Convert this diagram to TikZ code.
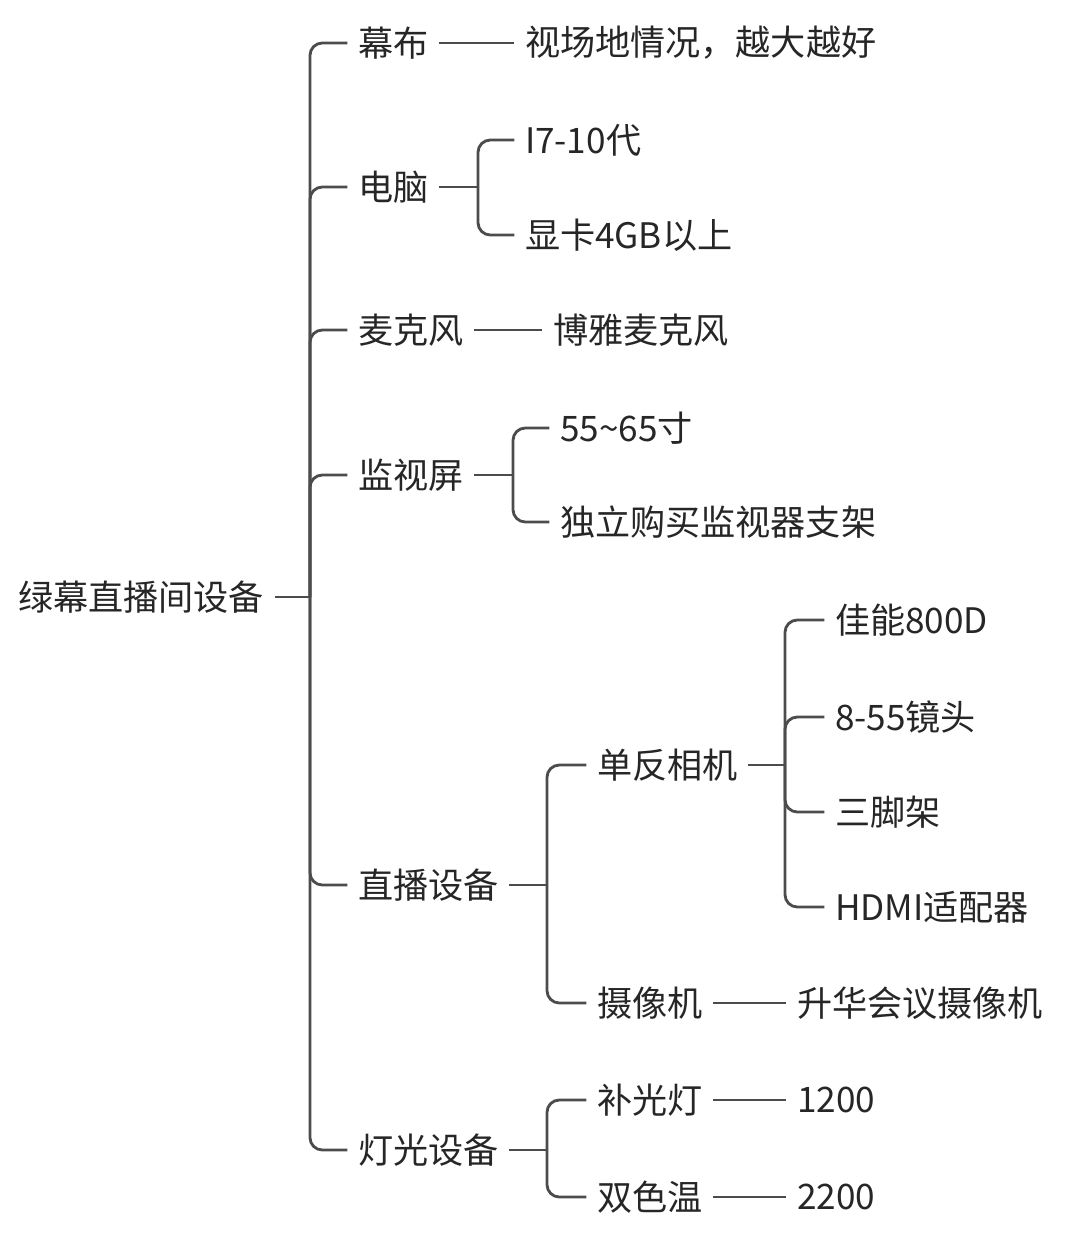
\documentclass[tikz,border=0pt]{standalone}
\usepackage{fontspec}
\setmainfont{Noto Sans CJK SC}
\tikzset{
  item/.style={anchor=west, inner sep=0pt, outer xsep=6pt, xshift=-6pt, text=black!85,
    font=\fontsize{20}{24}\selectfont},
  link/.style={draw=black!70, line width=1.6pt, rounded corners=7pt}
}
\begin{document}
\begin{tikzpicture}[x=0.02cm, y=-0.02cm]
  \useasboundingbox (0,0) rectangle (1075,1241);

  % Root
  \node[item] (root) at (18,597) {绿幕直播间设备};

  % First level
  \node[item] (screen) at (358,43) {幕布};
  \node[item] (pc) at (358,187) {电脑};
  \node[item] (mic) at (358,330) {麦克风};
  \node[item] (monitor) at (358,475) {监视屏};
  \node[item] (live) at (358,885) {直播设备};
  \node[item] (light) at (358,1150) {灯光设备};

  % Second level
  \node[item] (screenA) at (525,43) {视场地情况，越大越好};
  \node[item] (pcA) at (525,140) {I7-10代};
  \node[item] (pcB) at (525,235) {显卡4GB以上};
  \node[item] (micA) at (553,330) {博雅麦克风};
  \node[item] (monA) at (560,428) {55\textasciitilde65寸};
  \node[item] (monB) at (560,522) {独立购买监视器支架};
  \node[item] (dslr) at (597,765) {单反相机};
  \node[item] (cam) at (597,1003) {摄像机};
  \node[item] (fill) at (597,1100) {补光灯};
  \node[item] (bicolor) at (597,1197) {双色温};

  % Third level
  \node[item] (dslrA) at (835,620) {佳能800D};
  \node[item] (dslrB) at (835,717) {8-55镜头};
  \node[item] (dslrC) at (835,812) {三脚架};
  \node[item] (dslrD) at (835,907) {HDMI适配器};
  \node[item] (camA) at (797,1003) {升华会议摄像机};
  \node[item] (fillA) at (797,1100) {1200};
  \node[item] (bicolorA) at (797,1197) {2200};

  % Connectors
  \draw[link] (root.east) -- (310,597) coordinate (rj);
  \foreach \c in {screen,pc,mic,monitor,live,light}
    \draw[link] (rj) |- (\c.west);

  \draw[link] (screen.east) -- (screenA.west);
  \draw[link] (pc.east) -- (478,187) coordinate (pcj);
  \foreach \c in {pcA,pcB}
    \draw[link] (pcj) |- (\c.west);
  \draw[link] (mic.east) -- (micA.west);
  \draw[link] (monitor.east) -- (513,475) coordinate (monj);
  \foreach \c in {monA,monB}
    \draw[link] (monj) |- (\c.west);
  \draw[link] (live.east) -- (547,885) coordinate (livej);
  \foreach \c in {dslr,cam}
    \draw[link] (livej) |- (\c.west);
  \draw[link] (light.east) -- (547,1150) coordinate (lightj);
  \foreach \c in {fill,bicolor}
    \draw[link] (lightj) |- (\c.west);

  \draw[link] (dslr.east) -- (785,765) coordinate (dslrj);
  \foreach \c in {dslrA,dslrB,dslrC,dslrD}
    \draw[link] (dslrj) |- (\c.west);
  \draw[link] (cam.east) -- (camA.west);
  \draw[link] (fill.east) -- (fillA.west);
  \draw[link] (bicolor.east) -- (bicolorA.west);
\end{tikzpicture}
\end{document}
